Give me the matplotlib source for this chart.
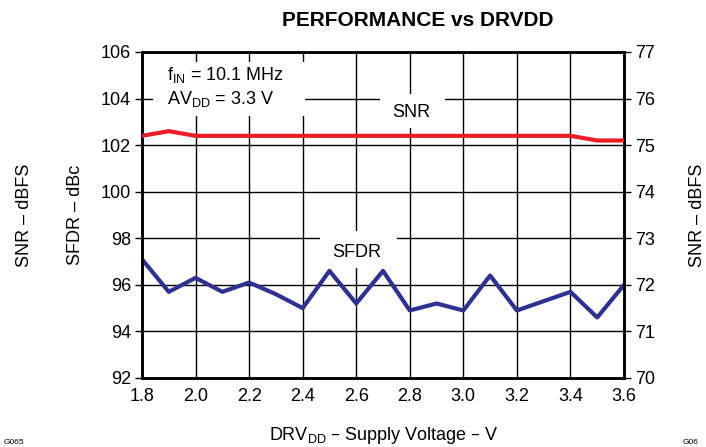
import matplotlib.pyplot as plt
from matplotlib.patches import Rectangle
import numpy as np

plt.rcParams['font.family'] = ['Liberation Sans', 'DejaVu Sans']

# supply voltage, V
drvdd = [1.8, 1.9, 2.0, 2.1, 2.2, 2.3, 2.4, 2.5, 2.6, 2.7,
         2.8, 2.9, 3.0, 3.1, 3.2, 3.3, 3.4, 3.5, 3.6]
# SFDR (left axis, dBc)
sfdr = [97.1, 95.7, 96.3, 95.7, 96.1, 95.6, 95.0, 96.6, 95.2, 96.6,
        94.9, 95.2, 94.9, 96.4, 94.9, 95.3, 95.7, 94.6, 96.0]
# SNR (right axis, dBFS)
snr = [75.2, 75.3, 75.2, 75.2, 75.2, 75.2, 75.2, 75.2, 75.2, 75.2,
       75.2, 75.2, 75.2, 75.2, 75.2, 75.2, 75.2, 75.1, 75.1]

xticks = np.arange(1.8, 3.61, 0.2)
left_ticks = np.arange(92, 107, 2)
right_ticks = np.arange(70, 78, 1)

fs = 13

fig = plt.figure(figsize=(7.06, 4.47), dpi=100)
ax = fig.add_axes([142 / 706, 1 - 378 / 447, 482 / 706, 326 / 447])
ax2 = ax.twinx()

ax.set_xlim(1.8, 3.6)
ax.set_ylim(92, 106)
ax2.set_ylim(70, 77)
ax.set_xticks(xticks)
ax.set_xticklabels([f"{v:.1f}" for v in xticks])
ax.set_yticks(left_ticks)
ax2.set_yticks(right_ticks)
ax.grid(True, color='black', lw=1.0)
ax.set_axisbelow(True)

for a in (ax, ax2):
    for s in a.spines.values():
        s.set_linewidth(1.8)
    a.tick_params(labelsize=fs, length=5, width=1.0, direction='out', pad=3)
ax.tick_params(axis='x', length=0, pad=7)

# white patches masking the grid behind the labels
for (x0, y0, x1, y1) in [(1.84, 103.25, 2.41, 105.57),
                         (2.69, 102.75, 2.93, 104.2),
                         (2.465, 96.73, 2.753, 98.3)]:
    ax.add_patch(Rectangle((x0, y0), x1 - x0, y1 - y0, facecolor='white',
                           edgecolor='none', zorder=2))

ax.text(1.893, 105.0, "f$_{\\mathregular{IN}}$ = 10.1 MHz", fontsize=fs,
        va='center', ha='left', zorder=3)
ax.text(1.893, 104.0, "AV$_{\\mathregular{DD}}$ = 3.3 V", fontsize=fs,
        va='center', ha='left', zorder=3)
ax.text(2.805, 103.4, "SNR", fontsize=fs, ha='center', va='center', zorder=3)
ax.text(2.6, 97.38, "SFDR", fontsize=fs, ha='center', va='center', zorder=3)

ax.plot(drvdd, sfdr, color='#2E3192', lw=3.0, zorder=4)
ax2.plot(drvdd, snr, color='#ED1C24', lw=3.0, zorder=4)

fig.text(418 / 706, 1 - 20 / 447, "PERFORMANCE vs DRVDD", fontsize=15,
         fontweight='bold', ha='center', va='center')
fig.text(25 / 706, 1 - 215 / 447, "SNR – dBFS", rotation=90, fontsize=fs,
         ha='center', va='center')
fig.text(75 / 706, 1 - 215 / 447, "SFDR – dBc", rotation=90, fontsize=fs,
         ha='center', va='center')
fig.text(697 / 706, 1 - 215 / 447, "SNR – dBFS", rotation=90, fontsize=fs,
         ha='center', va='center')
fig.text(384 / 706, 1 - 436 / 447, "DRV$_{\\mathregular{DD}}$ – Supply Voltage – V",
         fontsize=fs, ha='center', va='center')
fig.text(4 / 706, 1 - 442 / 447, "G065", fontsize=6, ha='left', va='center')
fig.text(683 / 706, 1 - 442 / 447, "G06", fontsize=6, ha='left', va='center')

fig.savefig("out.png", dpi=100)
